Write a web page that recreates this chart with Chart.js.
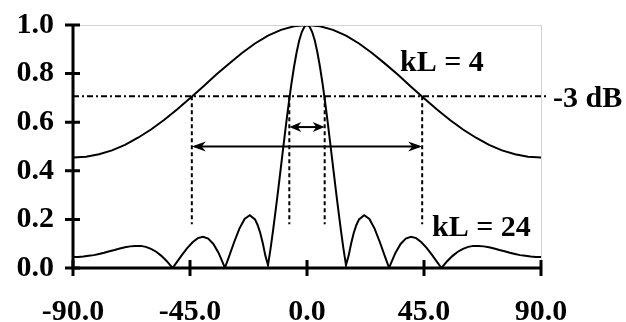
<!DOCTYPE html>
<html>
<head>
<meta charset="utf-8">
<script src="https://cdn.jsdelivr.net/npm/chart.js@4"></script>
<style>
  body { margin: 0; background: #fff; }
  canvas { display: block; }
</style>
</head>
<body>
<canvas id="beamChart" width="626" height="322"></canvas>
<script>
// angle in degrees, normalised field
const angles4 = [-90, -85, -80, -75, -70, -65, -60, -55, -50, -45, -40, -35, -30, -25, -20, -15, -10, -5,
  0, 5, 10, 15, 20, 25, 30, 35, 40, 45, 50, 55, 60, 65, 70, 75, 80, 85, 90];
const gain4 = [0.455, 0.458, 0.468, 0.484, 0.507, 0.536, 0.570, 0.609, 0.652, 0.699, 0.746, 0.795, 0.841, 0.885, 0.924, 0.956, 0.980, 0.995,
  1.000, 0.995, 0.980, 0.956, 0.924, 0.885, 0.841, 0.795, 0.746, 0.699, 0.652, 0.609, 0.570, 0.536, 0.507, 0.484, 0.468, 0.458, 0.455];

const angles24 = [-90, -88, -86, -84, -82, -80, -78, -76, -74, -72, -70, -68, -66, -64, -62, -60, -58, -56, -54, -51.7,
  -50, -48, -46, -44, -42, -40, -38, -36, -34, -32, -31.6, -30, -28, -26, -24, -22,
  -20, -19, -18, -17, -16, -15, -14, -13, -12, -11, -10, -9, -8, -7, -6, -5, -4, -3, -2, -1,
  0, 1, 2, 3, 4, 5, 6, 7, 8, 9, 10, 11, 12, 13, 14, 15, 16, 17, 18, 19, 20,
  22, 24, 26, 28, 30, 31.6, 32, 34, 36, 38, 40, 42, 44, 46, 48, 50,
  51.7, 54, 56, 58, 60, 62, 64, 66, 68, 70, 72, 74, 76, 78, 80, 82, 84, 86, 88, 90];
const gain24 = [0.045, 0.045, 0.047, 0.050, 0.053, 0.058, 0.063, 0.069, 0.074, 0.080, 0.085, 0.089, 0.091, 0.091, 0.087, 0.079, 0.067, 0.050, 0.029, 0.000,
  0.025, 0.055, 0.083, 0.106, 0.123, 0.128, 0.121, 0.099, 0.062, 0.012, 0.000, 0.047, 0.107, 0.162, 0.202, 0.217,
  0.200, 0.177, 0.145, 0.102, 0.050, 0.012, 0.081, 0.159, 0.242, 0.329, 0.418, 0.508, 0.596, 0.680, 0.758, 0.827, 0.887, 0.936, 0.971, 0.993,
  1.000, 0.993, 0.971, 0.936, 0.887, 0.827, 0.758, 0.680, 0.596, 0.508, 0.418, 0.329, 0.242, 0.159, 0.081, 0.012, 0.050, 0.102, 0.145, 0.177, 0.200,
  0.217, 0.202, 0.162, 0.107, 0.047, 0.000, 0.012, 0.062, 0.099, 0.121, 0.128, 0.123, 0.106, 0.083, 0.055, 0.025,
  0.000, 0.029, 0.050, 0.067, 0.079, 0.087, 0.091, 0.091, 0.089, 0.085, 0.080, 0.074, 0.069, 0.063, 0.058, 0.053, 0.050, 0.047, 0.045, 0.045];

const xTicks = [-90, -45, 0, 45, 90];
const yTicks = [0, 0.2, 0.4, 0.6, 0.8, 1.0];

// -3 dB marks
const halfPower = 0.707;
const halfAngle4 = 44.3;
const halfAngle24 = 6.8;
const dropLevel = 0.18;
const arrowLevel4 = 0.5;
const arrowLevel24 = 0.58;

const FONT = 'bold 30px "Liberation Serif"';

function toPoints(xs, ys) {
  return xs.map((x, i) => ({ x: x, y: ys[i] }));
}

function arrowHead(ctx, x, y, dir, len, half) {
  ctx.beginPath();
  ctx.moveTo(x, y);
  ctx.lineTo(x - dir * len, y - half);
  ctx.lineTo(x - dir * len * 0.7, y);
  ctx.lineTo(x - dir * len, y + half);
  ctx.closePath();
  ctx.fill();
}

function doubleArrow(ctx, x1, x2, y, len, half) {
  ctx.beginPath();
  ctx.moveTo(x1 + 3, y);
  ctx.lineTo(x2 - 3, y);
  ctx.stroke();
  arrowHead(ctx, x1, y, -1, len, half);
  arrowHead(ctx, x2, y, 1, len, half);
}

const decor = {
  id: 'decor',
  afterDraw(chart) {
    const ctx = chart.ctx;
    const a = chart.chartArea;
    const xs = chart.scales.x;
    const ys = chart.scales.y;
    ctx.save();

    // light frame top / right
    ctx.strokeStyle = '#d4d4d4';
    ctx.lineWidth = 1;
    ctx.beginPath();
    ctx.moveTo(a.left, a.top + 0.5);
    ctx.lineTo(a.right + 0.5, a.top + 0.5);
    ctx.lineTo(a.right + 0.5, a.bottom);
    ctx.stroke();

    // black axes with crossing ticks
    ctx.strokeStyle = '#000';
    ctx.lineWidth = 3;
    ctx.beginPath();
    ctx.moveTo(a.left, a.top);
    ctx.lineTo(a.left, a.bottom);
    ctx.lineTo(a.right, a.bottom);
    ctx.stroke();
    ctx.beginPath();
    yTicks.forEach(v => {
      const py = ys.getPixelForValue(v);
      ctx.moveTo(a.left - 8, py);
      ctx.lineTo(a.left + 7, py);
    });
    xTicks.forEach(v => {
      const px = xs.getPixelForValue(v);
      ctx.moveTo(px, a.bottom - 8);
      ctx.lineTo(px, a.bottom + 8);
    });
    ctx.stroke();

    // -3 dB line
    const yHp = ys.getPixelForValue(halfPower);
    ctx.lineWidth = 2;
    ctx.setLineDash([6, 3, 2, 3]);
    ctx.beginPath();
    ctx.moveTo(a.left, yHp);
    ctx.lineTo(a.right + 7, yHp);
    ctx.stroke();

    // drop lines
    ctx.setLineDash([4, 3]);
    const yDrop = ys.getPixelForValue(dropLevel);
    ctx.beginPath();
    [-halfAngle4, halfAngle4, -halfAngle24, halfAngle24].forEach(v => {
      const px = xs.getPixelForValue(v);
      ctx.moveTo(px, yHp);
      ctx.lineTo(px, yDrop);
    });
    ctx.stroke();
    ctx.setLineDash([]);

    // arrows
    ctx.fillStyle = '#000';
    doubleArrow(ctx, xs.getPixelForValue(-halfAngle4), xs.getPixelForValue(halfAngle4),
      ys.getPixelForValue(arrowLevel4), 14, 5);
    doubleArrow(ctx, xs.getPixelForValue(-halfAngle24), xs.getPixelForValue(halfAngle24),
      ys.getPixelForValue(arrowLevel24), 12, 5);

    // labels
    ctx.font = FONT;
    ctx.textBaseline = 'alphabetic';
    ctx.textAlign = 'left';
    ctx.fillText('kL = 4', xs.getPixelForValue(35.8), ys.getPixelForValue(0.81));
    ctx.fillText('-3 dB', a.right + 12, yHp + 11);
    ctx.fillText('kL = 24', xs.getPixelForValue(48.1), ys.getPixelForValue(0.132));

    ctx.restore();
  }
};

new Chart(document.getElementById('beamChart'), {
  type: 'scatter',
  data: {
    datasets: [
      {
        label: 'kL = 4',
        data: toPoints(angles4, gain4),
        showLine: true,
        borderColor: '#000',
        borderWidth: 2,
        pointRadius: 0,
        tension: 0,
      },
      {
        label: 'kL = 24',
        data: toPoints(angles24, gain24),
        showLine: true,
        borderColor: '#000',
        borderWidth: 2,
        pointRadius: 0,
        tension: 0,
      },
    ],
  },
  options: {
    responsive: false,
    animation: false,
    devicePixelRatio: 1,
    layout: { padding: { top: 25, right: 85, left: 0, bottom: 0 } },
    plugins: {
      legend: { display: false },
      tooltip: { enabled: false },
    },
    scales: {
      x: {
        type: 'linear',
        min: -90,
        max: 90,
        afterBuildTicks: s => { s.ticks = xTicks.map(v => ({ value: v })); },
        afterFit: s => {
          s.height = 54;
          s.paddingLeft = 0;
          s.paddingRight = 0;
        },
        grid: { display: false, drawTicks: false },
        border: { display: false },
        ticks: {
          color: '#000',
          padding: 26,
          font: { family: 'Liberation Serif', weight: 'bold', size: 30 },
          callback: v => v.toFixed(1),
        },
      },
      y: {
        min: 0,
        max: 1,
        afterBuildTicks: s => { s.ticks = yTicks.map(v => ({ value: v })); },
        afterFit: s => {
          s.width = 73;
          s.paddingTop = 0;
          s.paddingBottom = 0;
        },
        grid: { display: false, drawTicks: false },
        border: { display: false },
        ticks: {
          color: '#000',
          padding: 19,
          font: { family: 'Liberation Serif', weight: 'bold', size: 30 },
          callback: v => v.toFixed(1),
        },
      },
    },
  },
  plugins: [decor],
});
</script>
</body>
</html>
